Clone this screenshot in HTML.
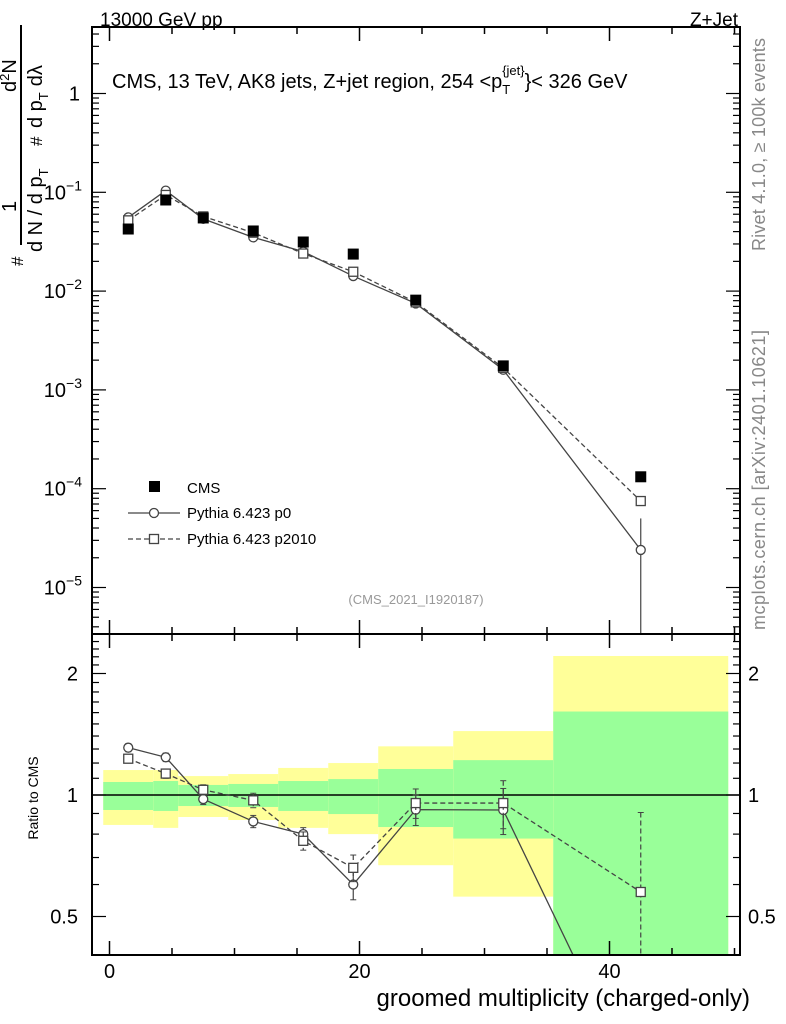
<!DOCTYPE html>
<html><head><meta charset="utf-8"><style>
html,body{margin:0;background:#fff;overflow:hidden;width:786px;height:1024px}
svg{display:block}
svg text{font-family:"Liberation Sans",sans-serif}
</style></head><body>
<svg id="c" width="786" height="1024" xmlns="http://www.w3.org/2000/svg">
<g id="bands"></g><g id="marks"></g><g id="axes"></g>
<text x="100" y="26" font-size="19">13000 GeV pp</text>
<text x="738" y="26" font-size="19" text-anchor="end">Z+Jet</text>
<text x="112" y="88" font-size="20">CMS, 13 TeV, AK8 jets, Z+jet region, 254 &lt;p<tspan font-size="13" dy="6">T</tspan><tspan font-size="13" dy="-19" dx="-8">{jet}</tspan><tspan dy="13">}&lt; 326 GeV</tspan></text>
<text transform="translate(765,251) rotate(-90)" font-size="18" fill="#888" textLength="213">Rivet 4.1.0, ≥ 100k events</text>
<text transform="translate(765,630) rotate(-90)" font-size="18" fill="#888" textLength="300">mcplots.cern.ch [arXiv:2401.10621]</text>
<text x="416" y="604" font-size="13" fill="#999" text-anchor="middle">(CMS_2021_I1920187)</text>
<text transform="translate(38,798) rotate(-90)" font-size="14" text-anchor="middle">Ratio to CMS</text>
<text x="750" y="1006" font-size="24" text-anchor="end">groomed multiplicity (charged-only)</text>
<g font-size="20">
<text transform="translate(23,266) rotate(-90)" font-size="17">#</text>
<text transform="translate(16,212) rotate(-90)">1</text>
<line x1="21" y1="245" x2="21" y2="25" stroke="#000" stroke-width="2"/>
<text transform="translate(16,92) rotate(-90)">d<tspan font-size="13" dy="-7">2</tspan><tspan dy="7">N</tspan></text>
<text transform="translate(42,252) rotate(-90)">d N / d p<tspan font-size="13" dy="6">T</tspan></text>
<text transform="translate(42,146) rotate(-90)" font-size="17">#</text>
<text transform="translate(42,128) rotate(-90)">d p<tspan font-size="13" dy="6">T</tspan><tspan dy="-6" dx="6">dλ</tspan></text>
</g>
<g>
<rect x="149" y="481" width="11" height="11" fill="#000"/>
<text x="187" y="493" font-size="15">CMS</text>
<line x1="128" y1="513" x2="180" y2="513" stroke="#444" stroke-width="1.3"/>
<circle cx="154" cy="513" r="4.5" fill="#fff" stroke="#444" stroke-width="1.3"/>
<text x="187" y="518" font-size="15">Pythia 6.423 p0</text>
<line x1="128" y1="539" x2="180" y2="539" stroke="#444" stroke-width="1.3" stroke-dasharray="5,3"/>
<rect x="149.5" y="534.5" width="9" height="9" fill="#fff" stroke="#444" stroke-width="1.3"/>
<text x="187" y="544" font-size="15">Pythia 6.423 p2010</text>
</g>
</svg>
<script>
const binLo=[-0.5,3.5,5.5,9.5,13.5,17.5,21.5,27.5,35.5];
const binHi=[3.5,5.5,9.5,13.5,17.5,21.5,27.5,35.5,49.5];
const binCenters=[1.5,4.5,7.5,11.5,15.5,19.5,24.5,31.5,42.5];
const cmsValues=[0.0425,0.0836,0.055,0.0406,0.0314,0.0237,0.0081,0.00175,0.000132];
const p0Values=[0.0557,0.104,0.0538,0.035,0.0251,0.0142,0.0075,0.0016,0.000024];
const p2010Values=[0.052,0.094,0.057,0.039,0.024,0.0157,0.0077,0.00167,0.000075];
const ratioP0=[1.31,1.24,0.977,0.86,0.80,0.60,0.92,0.918,0.18];
const ratioP0Err=[0.03,0.03,0.03,0.03,0.03,0.05,0.08,0.12,0.15];
const ratioP2010=[1.23,1.13,1.03,0.97,0.77,0.66,0.955,0.955,0.575];
const ratioP2010Err=[0.03,0.03,0.03,0.04,0.04,0.05,0.08,0.13,0.33];
const bandYellowHi=[1.153,1.153,1.114,1.127,1.167,1.20,1.32,1.44,2.21];
const bandYellowLo=[0.843,0.829,0.882,0.867,0.829,0.80,0.67,0.56,0.3];
const bandGreenHi=[1.077,1.083,1.059,1.065,1.083,1.095,1.16,1.22,1.61];
const bandGreenLo=[0.918,0.913,0.939,0.934,0.913,0.897,0.833,0.78,0.3];
const xTicks=[0,20,40];
const mainTicks=[0,-1,-2,-3,-4,-5];
const ratioTicks=[2,1,0.5];

const NS="http://www.w3.org/2000/svg";
const L=92,R=740,T=27,MB=634,RB=955;
const X=v=>109.5+v*12.5;
const Y=v=>93.5-Math.log10(v)*98.8;
const YR=v=>795-Math.log2(v)*121.5;
function mk(p,tag,a){const e=document.createElementNS(NS,tag);for(const k in a)e.setAttribute(k,a[k]);p.appendChild(e);return e;}
const bands=document.getElementById('bands'),marks=document.getElementById('marks'),axes=document.getElementById('axes');
const clamp=(v,a,b)=>Math.max(a,Math.min(b,v));
for(let i=0;i<binLo.length;i++){
 let y1=clamp(YR(bandYellowHi[i]),MB,RB),y2=clamp(YR(bandYellowLo[i]),MB,RB);
 let r=mk(bands,'rect',{x:X(binLo[i]),y:y1,width:X(binHi[i])-X(binLo[i]),height:y2-y1,fill:'#ffff99'});
 
 
 y1=clamp(YR(bandGreenHi[i]),MB,RB);y2=clamp(YR(bandGreenLo[i]),MB,RB);
 r=mk(bands,'rect',{x:X(binLo[i]),y:y1,width:X(binHi[i])-X(binLo[i]),height:y2-y1,fill:'#99ff99'});
 
 
}
mk(bands,'line',{x1:L,x2:R,y1:YR(1),y2:YR(1),stroke:'#000','stroke-width':1.5});
const defs=mk(document.getElementById('c'),'defs',{});
const c1=mk(defs,'clipPath',{id:'cm'});mk(c1,'rect',{x:L,y:T,width:R-L,height:MB-T});
const c2=mk(defs,'clipPath',{id:'cr'});mk(c2,'rect',{x:L,y:MB,width:R-L,height:RB-MB});
const gm=mk(marks,'g',{'clip-path':'url(#cm)'}),gr=mk(marks,'g',{'clip-path':'url(#cr)'});
function series(g,vals,fy,dash,shape,name,errs){
 const pts=vals.map((v,i)=>X(binCenters[i])+','+fy(v)).join(' ');
 const pl=mk(g,'polyline',{points:pts,fill:'none',stroke:'#444','stroke-width':1.3,'stroke-dasharray':dash});
 
 
 vals.forEach((v,i)=>{
  const x=X(binCenters[i]),y=fy(v);
  if(errs){const e=errs[i];mk(g,'line',{x1:x,x2:x,y1:fy(v+e),y2:fy(Math.max(v-e,0.01)),stroke:'#444','stroke-width':1.2,'stroke-dasharray':dash});
   mk(g,'line',{x1:x-3,x2:x+3,y1:fy(v+e),y2:fy(v+e),stroke:'#444'});mk(g,'line',{x1:x-3,x2:x+3,y1:fy(v-e),y2:fy(v-e),stroke:'#444'});}
  let m=shape==='c'?mk(g,'circle',{cx:x,cy:y,r:4.5,fill:'#fff',stroke:'#444','stroke-width':1.3}):
   mk(g,'rect',{x:x-4.5,y:y-4.5,width:9,height:9,fill:'#fff',stroke:'#444','stroke-width':1.3});
  
  
 });
}
mk(gm,'line',{x1:X(42.5),x2:X(42.5),y1:Y(0.00005),y2:MB,stroke:'#444','stroke-width':1.2});
series(gm,p0Values,Y,'none','c','p0');
series(gm,p2010Values,Y,'5,3','s','p2010');
cmsValues.forEach((v,i)=>{const r=mk(gm,'rect',{x:X(binCenters[i])-5.5,y:Y(v)-5.5,width:11,height:11,fill:'#000'});
 
 });
series(gr,ratioP0,YR,'none','c','ratio-p0',ratioP0Err);
series(gr,ratioP2010,YR,'5,3','s','ratio-p2010',ratioP2010Err);
const A={stroke:'#000','stroke-width':2,fill:'none'};
mk(axes,'rect',Object.assign({x:L,y:T,width:R-L,height:RB-T},A));
mk(axes,'line',{x1:L,x2:R,y1:MB,y2:MB,stroke:'#000','stroke-width':2});
for(let v=0;v<=50;v+=5){const x=X(v),len=v%20===0?14:7;
 [T,MB].forEach(b=>mk(axes,'line',{x1:x,x2:x,y1:b,y2:b+len,stroke:'#000','stroke-width':1.5}));
 [MB,RB].forEach(b=>mk(axes,'line',{x1:x,x2:x,y1:b,y2:b-len,stroke:'#000','stroke-width':1.5}));}
xTicks.forEach(v=>{const t=mk(axes,'text',{x:X(v),y:978,'font-size':20,'text-anchor':'middle'});t.textContent=String(v);
 
 });
for(let d=1;d>=-6;d--)for(let k=1;k<10;k++){const y=Y(k*Math.pow(10,d));if(y<T||y>MB)continue;const len=k===1?14:7;
 mk(axes,'line',{x1:L,x2:L+len,y1:y,y2:y,stroke:'#000','stroke-width':1.2});mk(axes,'line',{x1:R,x2:R-len,y1:y,y2:y,stroke:'#000','stroke-width':1.2});}
mainTicks.forEach(d=>{const t=mk(axes,'text',{x:d===0?80:82,y:Y(Math.pow(10,d))+7,'font-size':20,'text-anchor':'end'});
 if(d===0)t.textContent='1';else{t.appendChild(document.createTextNode('10'));const s=mk(t,'tspan',{dy:-9,'font-size':14});s.textContent='−'+(-d);}
 
 });
[0.5,0.6,0.7,0.8,0.9,1,1.1,1.2,1.3,1.4,1.5,1.6,1.7,1.8,1.9,2,2.1,2.2,2.3,2.4,2.5].forEach(v=>{const y=YR(v);if(y<MB||y>RB)return;
 const len=(v===0.5||v===1||v===2)?14:7;
 mk(axes,'line',{x1:L,x2:L+len,y1:y,y2:y,stroke:'#000','stroke-width':1.2});mk(axes,'line',{x1:R,x2:R-len,y1:y,y2:y,stroke:'#000','stroke-width':1.2});});
ratioTicks.forEach(v=>{[78,748].forEach((x,j)=>{const t=mk(axes,'text',{x:x,y:YR(v)+7,'font-size':20,'text-anchor':j?'start':'end'});t.textContent=String(v);
 
 });});
</script>
</body></html>
